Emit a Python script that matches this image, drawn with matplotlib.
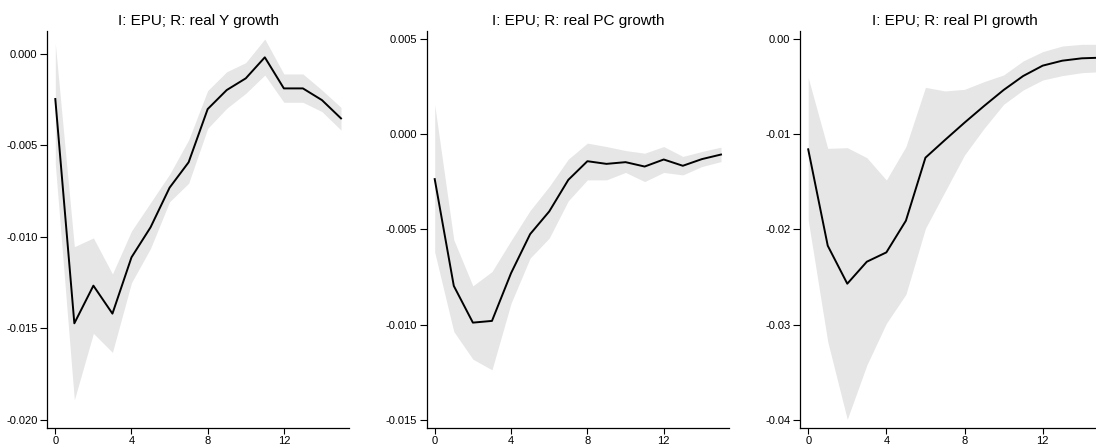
import matplotlib
matplotlib.use("Agg")
import matplotlib.pyplot as plt
import numpy as np

plt.rcParams['font.family'] = ['Liberation Sans', 'DejaVu Sans']
plt.rcParams['axes.unicode_minus'] = False

horizon = list(range(16))

titles = ["I: EPU; R: real Y growth", "I: EPU; R: real PC growth", "I: EPU; R: real PI growth"]

y_irf = [-0.00246, -0.01473, -0.01267, -0.0142, -0.01112, -0.00948, -0.00731, -0.00592,
         -0.00301, -0.00197, -0.00133, -0.00018, -0.00188, -0.00188, -0.00252, -0.00352]
y_up = [0.00058, -0.01054, -0.01006, -0.01203, -0.00968, -0.00813, -0.00658, -0.0047,
        -0.002, -0.00097, -0.00047, 0.00082, -0.00109, -0.00109, -0.00197, -0.00292]
y_lo = [-0.0060, -0.01892, -0.01528, -0.01632, -0.01251, -0.01063, -0.00808, -0.00707,
        -0.00407, -0.00297, -0.00215, -0.00115, -0.00264, -0.00264, -0.00315, -0.00416]

pc_irf = [-0.00236, -0.00797, -0.0099, -0.00981, -0.0073, -0.00525, -0.00406, -0.0024,
          -0.00142, -0.00156, -0.00147, -0.0017, -0.00133, -0.00166, -0.00131, -0.00107]
pc_up = [0.00154, -0.00555, -0.00797, -0.00722, -0.00559, -0.00401, -0.00275, -0.00131,
         -0.00047, -0.00065, -0.00086, -0.001, -0.00065, -0.00117, -0.00091, -0.00068]
pc_lo = [-0.0062, -0.01037, -0.01182, -0.01238, -0.00888, -0.00651, -0.00546, -0.0035,
         -0.0024, -0.0024, -0.00201, -0.00249, -0.00201, -0.00214, -0.0017, -0.00144]

pi_irf = [-0.01159, -0.02172, -0.02571, -0.0234, -0.02242, -0.01909, -0.01247, -0.01061,
          -0.00879, -0.00704, -0.00536, -0.00389, -0.0028, -0.00228, -0.00203, -0.00196]
pi_up = [-0.00406, -0.01149, -0.01142, -0.01247, -0.01482, -0.01131, -0.00508, -0.00546,
         -0.00529, -0.00448, -0.00378, -0.00231, -0.00133, -0.00074, -0.00056, -0.00056]
pi_lo = [-0.01902, -0.0318, -0.03996, -0.03426, -0.02988, -0.02683, -0.0199, -0.01604,
         -0.01219, -0.00939, -0.00687, -0.00536, -0.00431, -0.00385, -0.00354, -0.00343]

x_ticks = [0, 4, 8, 12]
y_ticks_list = [
    [0.000, -0.005, -0.010, -0.015, -0.020],
    [0.005, 0.000, -0.005, -0.010, -0.015],
    [0.00, -0.01, -0.02, -0.03, -0.04],
]
y_fmt = ["%.3f", "%.3f", "%.2f"]
y_lims = [(-0.02044, 0.00126), (-0.01542, 0.00542), (-0.04084, 0.00084)]
series = [(y_irf, y_up, y_lo), (pc_irf, pc_up, pc_lo), (pi_irf, pi_up, pi_lo)]

W, H = 1096, 447
fig = plt.figure(figsize=(W / 100, H / 100), dpi=100)
# axes boxes in pixels: left, right, top, bottom
boxes = [(47.3, 349.0, 31.0, 427.7), (426.7, 729.0, 31.0, 427.7), (800.0, 1109.5, 31.0, 427.7)]

for i in range(3):
    l, r, t, b = boxes[i]
    ax = fig.add_axes([l / W, 1 - b / H, (r - l) / W, (b - t) / H])
    irf, up, lo = series[i]
    ax.fill_between(horizon, lo, up, color='#e6e6e6', linewidth=0)
    ax.plot(horizon, irf, color='black', linewidth=1.4)
    ax.set_xlim(-0.42, 15.42)
    ax.set_ylim(*y_lims[i])
    ax.set_xticks(x_ticks)
    ax.set_xticklabels([str(v) for v in x_ticks])
    ax.set_yticks(y_ticks_list[i])
    ax.set_yticklabels([y_fmt[i] % v for v in y_ticks_list[i]])
    for s in ['top', 'right']:
        ax.spines[s].set_visible(False)
    for s in ['left', 'bottom']:
        ax.spines[s].set_linewidth(0.9)
        ax.spines[s].set_color('black')
    ax.tick_params(axis='y', length=5, width=0.8, labelsize=8, pad=2, colors='black')
    ax.tick_params(axis='x', length=4, width=0.8, labelsize=8, pad=2, colors='black')
    ax.set_title(titles[i], fontsize=11, pad=4)

fig.savefig("out.png", dpi=100)
